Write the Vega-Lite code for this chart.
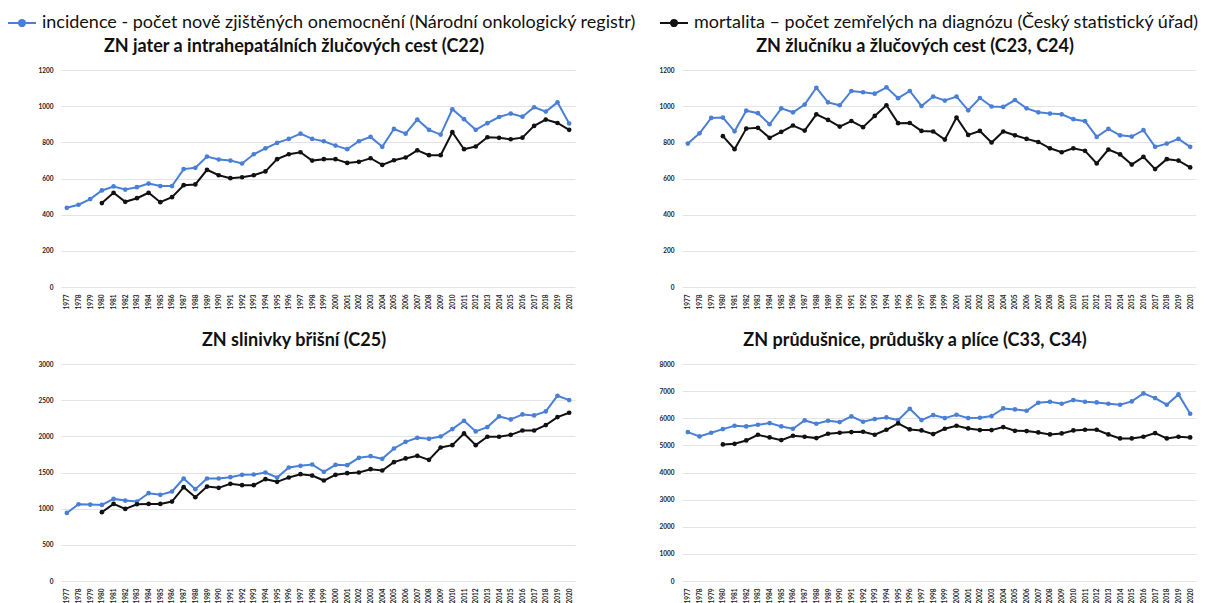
{
  "$schema": "https://vega.github.io/schema/vega-lite/v6.json",
  "background": "white",
  "padding": {"left": 7, "top": 8, "right": 0, "bottom": 0},
  "data": {"values": [
    {"panel":"C22","year":1977,"incidence":438,"mortalita":null},
    {"panel":"C22","year":1978,"incidence":455,"mortalita":null},
    {"panel":"C22","year":1979,"incidence":486,"mortalita":null},
    {"panel":"C22","year":1980,"incidence":534,"mortalita":464},
    {"panel":"C22","year":1981,"incidence":556,"mortalita":521},
    {"panel":"C22","year":1982,"incidence":539,"mortalita":471},
    {"panel":"C22","year":1983,"incidence":552,"mortalita":491},
    {"panel":"C22","year":1984,"incidence":572,"mortalita":521},
    {"panel":"C22","year":1985,"incidence":558,"mortalita":469},
    {"panel":"C22","year":1986,"incidence":558,"mortalita":497},
    {"panel":"C22","year":1987,"incidence":652,"mortalita":563},
    {"panel":"C22","year":1988,"incidence":659,"mortalita":567},
    {"panel":"C22","year":1989,"incidence":721,"mortalita":648},
    {"panel":"C22","year":1990,"incidence":705,"mortalita":618},
    {"panel":"C22","year":1991,"incidence":699,"mortalita":602},
    {"panel":"C22","year":1992,"incidence":683,"mortalita":607},
    {"panel":"C22","year":1993,"incidence":734,"mortalita":618},
    {"panel":"C22","year":1994,"incidence":767,"mortalita":639},
    {"panel":"C22","year":1995,"incidence":797,"mortalita":707},
    {"panel":"C22","year":1996,"incidence":819,"mortalita":734},
    {"panel":"C22","year":1997,"incidence":848,"mortalita":745},
    {"panel":"C22","year":1998,"incidence":819,"mortalita":699},
    {"panel":"C22","year":1999,"incidence":806,"mortalita":707},
    {"panel":"C22","year":2000,"incidence":782,"mortalita":707},
    {"panel":"C22","year":2001,"incidence":762,"mortalita":686},
    {"panel":"C22","year":2002,"incidence":806,"mortalita":692},
    {"panel":"C22","year":2003,"incidence":830,"mortalita":712},
    {"panel":"C22","year":2004,"incidence":775,"mortalita":675},
    {"panel":"C22","year":2005,"incidence":874,"mortalita":701},
    {"panel":"C22","year":2006,"incidence":848,"mortalita":716},
    {"panel":"C22","year":2007,"incidence":926,"mortalita":756},
    {"panel":"C22","year":2008,"incidence":869,"mortalita":729},
    {"panel":"C22","year":2009,"incidence":843,"mortalita":729},
    {"panel":"C22","year":2010,"incidence":983,"mortalita":856},
    {"panel":"C22","year":2011,"incidence":928,"mortalita":762},
    {"panel":"C22","year":2012,"incidence":869,"mortalita":777},
    {"panel":"C22","year":2013,"incidence":906,"mortalita":828},
    {"panel":"C22","year":2014,"incidence":940,"mortalita":825},
    {"panel":"C22","year":2015,"incidence":959,"mortalita":817},
    {"panel":"C22","year":2016,"incidence":942,"mortalita":826},
    {"panel":"C22","year":2017,"incidence":994,"mortalita":891},
    {"panel":"C22","year":2018,"incidence":970,"mortalita":926},
    {"panel":"C22","year":2019,"incidence":1021,"mortalita":907},
    {"panel":"C22","year":2020,"incidence":904,"mortalita":869},
    {"panel":"C23","year":1977,"incidence":793,"mortalita":null},
    {"panel":"C23","year":1978,"incidence":850,"mortalita":null},
    {"panel":"C23","year":1979,"incidence":935,"mortalita":null},
    {"panel":"C23","year":1980,"incidence":937,"mortalita":834},
    {"panel":"C23","year":1981,"incidence":861,"mortalita":762},
    {"panel":"C23","year":1982,"incidence":975,"mortalita":876},
    {"panel":"C23","year":1983,"incidence":961,"mortalita":880},
    {"panel":"C23","year":1984,"incidence":900,"mortalita":825},
    {"panel":"C23","year":1985,"incidence":988,"mortalita":858},
    {"panel":"C23","year":1986,"incidence":966,"mortalita":893},
    {"panel":"C23","year":1987,"incidence":1009,"mortalita":865},
    {"panel":"C23","year":1988,"incidence":1102,"mortalita":955},
    {"panel":"C23","year":1989,"incidence":1021,"mortalita":924},
    {"panel":"C23","year":1990,"incidence":1005,"mortalita":887},
    {"panel":"C23","year":1991,"incidence":1084,"mortalita":918},
    {"panel":"C23","year":1992,"incidence":1077,"mortalita":884},
    {"panel":"C23","year":1993,"incidence":1069,"mortalita":946},
    {"panel":"C23","year":1994,"incidence":1104,"mortalita":1005},
    {"panel":"C23","year":1995,"incidence":1044,"mortalita":906},
    {"panel":"C23","year":1996,"incidence":1084,"mortalita":907},
    {"panel":"C23","year":1997,"incidence":1001,"mortalita":863},
    {"panel":"C23","year":1998,"incidence":1053,"mortalita":860},
    {"panel":"C23","year":1999,"incidence":1031,"mortalita":815},
    {"panel":"C23","year":2000,"incidence":1053,"mortalita":937},
    {"panel":"C23","year":2001,"incidence":977,"mortalita":841},
    {"panel":"C23","year":2002,"incidence":1045,"mortalita":863},
    {"panel":"C23","year":2003,"incidence":998,"mortalita":799},
    {"panel":"C23","year":2004,"incidence":996,"mortalita":860},
    {"panel":"C23","year":2005,"incidence":1034,"mortalita":839},
    {"panel":"C23","year":2006,"incidence":988,"mortalita":819},
    {"panel":"C23","year":2007,"incidence":966,"mortalita":802},
    {"panel":"C23","year":2008,"incidence":959,"mortalita":767},
    {"panel":"C23","year":2009,"incidence":955,"mortalita":745},
    {"panel":"C23","year":2010,"incidence":928,"mortalita":767},
    {"panel":"C23","year":2011,"incidence":917,"mortalita":753},
    {"panel":"C23","year":2012,"incidence":830,"mortalita":683},
    {"panel":"C23","year":2013,"incidence":874,"mortalita":760},
    {"panel":"C23","year":2014,"incidence":839,"mortalita":733},
    {"panel":"C23","year":2015,"incidence":832,"mortalita":677},
    {"panel":"C23","year":2016,"incidence":867,"mortalita":720},
    {"panel":"C23","year":2017,"incidence":775,"mortalita":652},
    {"panel":"C23","year":2018,"incidence":793,"mortalita":707},
    {"panel":"C23","year":2019,"incidence":819,"mortalita":699},
    {"panel":"C23","year":2020,"incidence":775,"mortalita":661},
    {"panel":"C25","year":1977,"incidence":941,"mortalita":null},
    {"panel":"C25","year":1978,"incidence":1061,"mortalita":null},
    {"panel":"C25","year":1979,"incidence":1057,"mortalita":null},
    {"panel":"C25","year":1980,"incidence":1052,"mortalita":951},
    {"panel":"C25","year":1981,"incidence":1135,"mortalita":1066},
    {"panel":"C25","year":1982,"incidence":1112,"mortalita":997},
    {"panel":"C25","year":1983,"incidence":1098,"mortalita":1061},
    {"panel":"C25","year":1984,"incidence":1214,"mortalita":1066},
    {"panel":"C25","year":1985,"incidence":1191,"mortalita":1066},
    {"panel":"C25","year":1986,"incidence":1237,"mortalita":1098},
    {"panel":"C25","year":1987,"incidence":1417,"mortalita":1297},
    {"panel":"C25","year":1988,"incidence":1269,"mortalita":1158},
    {"panel":"C25","year":1989,"incidence":1417,"mortalita":1306},
    {"panel":"C25","year":1990,"incidence":1417,"mortalita":1288},
    {"panel":"C25","year":1991,"incidence":1435,"mortalita":1343},
    {"panel":"C25","year":1992,"incidence":1468,"mortalita":1325},
    {"panel":"C25","year":1993,"incidence":1472,"mortalita":1325},
    {"panel":"C25","year":1994,"incidence":1500,"mortalita":1408},
    {"panel":"C25","year":1995,"incidence":1431,"mortalita":1371},
    {"panel":"C25","year":1996,"incidence":1569,"mortalita":1431},
    {"panel":"C25","year":1997,"incidence":1592,"mortalita":1477},
    {"panel":"C25","year":1998,"incidence":1611,"mortalita":1458},
    {"panel":"C25","year":1999,"incidence":1509,"mortalita":1389},
    {"panel":"C25","year":2000,"incidence":1606,"mortalita":1468},
    {"panel":"C25","year":2001,"incidence":1601,"mortalita":1491},
    {"panel":"C25","year":2002,"incidence":1703,"mortalita":1500},
    {"panel":"C25","year":2003,"incidence":1726,"mortalita":1546},
    {"panel":"C25","year":2004,"incidence":1689,"mortalita":1528},
    {"panel":"C25","year":2005,"incidence":1832,"mortalita":1643},
    {"panel":"C25","year":2006,"incidence":1924,"mortalita":1694},
    {"panel":"C25","year":2007,"incidence":1980,"mortalita":1731},
    {"panel":"C25","year":2008,"incidence":1966,"mortalita":1675},
    {"panel":"C25","year":2009,"incidence":1998,"mortalita":1846},
    {"panel":"C25","year":2010,"incidence":2100,"mortalita":1878},
    {"panel":"C25","year":2011,"incidence":2215,"mortalita":2040},
    {"panel":"C25","year":2012,"incidence":2068,"mortalita":1878},
    {"panel":"C25","year":2013,"incidence":2128,"mortalita":1994},
    {"panel":"C25","year":2014,"incidence":2275,"mortalita":1994},
    {"panel":"C25","year":2015,"incidence":2234,"mortalita":2021},
    {"panel":"C25","year":2016,"incidence":2303,"mortalita":2081},
    {"panel":"C25","year":2017,"incidence":2289,"mortalita":2081},
    {"panel":"C25","year":2018,"incidence":2344,"mortalita":2155},
    {"panel":"C25","year":2019,"incidence":2561,"mortalita":2266},
    {"panel":"C25","year":2020,"incidence":2501,"mortalita":2326},
    {"panel":"C33","year":1977,"incidence":5489,"mortalita":null},
    {"panel":"C33","year":1978,"incidence":5329,"mortalita":null},
    {"panel":"C33","year":1979,"incidence":5465,"mortalita":null},
    {"panel":"C33","year":1980,"incidence":5600,"mortalita":5034},
    {"panel":"C33","year":1981,"incidence":5723,"mortalita":5058},
    {"panel":"C33","year":1982,"incidence":5698,"mortalita":5182},
    {"panel":"C33","year":1983,"incidence":5760,"mortalita":5391},
    {"panel":"C33","year":1984,"incidence":5822,"mortalita":5292},
    {"panel":"C33","year":1985,"incidence":5698,"mortalita":5194},
    {"panel":"C33","year":1986,"incidence":5612,"mortalita":5354},
    {"panel":"C33","year":1987,"incidence":5920,"mortalita":5317},
    {"panel":"C33","year":1988,"incidence":5797,"mortalita":5268},
    {"panel":"C33","year":1989,"incidence":5908,"mortalita":5428},
    {"panel":"C33","year":1990,"incidence":5858,"mortalita":5465},
    {"panel":"C33","year":1991,"incidence":6068,"mortalita":5489},
    {"panel":"C33","year":1992,"incidence":5871,"mortalita":5502},
    {"panel":"C33","year":1993,"incidence":5969,"mortalita":5391},
    {"panel":"C33","year":1994,"incidence":6031,"mortalita":5575},
    {"panel":"C33","year":1995,"incidence":5932,"mortalita":5809},
    {"panel":"C33","year":1996,"incidence":6351,"mortalita":5588},
    {"panel":"C33","year":1997,"incidence":5932,"mortalita":5551},
    {"panel":"C33","year":1998,"incidence":6117,"mortalita":5415},
    {"panel":"C33","year":1999,"incidence":6006,"mortalita":5612},
    {"panel":"C33","year":2000,"incidence":6129,"mortalita":5723},
    {"panel":"C33","year":2001,"incidence":6006,"mortalita":5625},
    {"panel":"C33","year":2002,"incidence":6018,"mortalita":5563},
    {"panel":"C33","year":2003,"incidence":6080,"mortalita":5563},
    {"panel":"C33","year":2004,"incidence":6363,"mortalita":5674},
    {"panel":"C33","year":2005,"incidence":6326,"mortalita":5538},
    {"panel":"C33","year":2006,"incidence":6277,"mortalita":5526},
    {"panel":"C33","year":2007,"incidence":6572,"mortalita":5477},
    {"panel":"C33","year":2008,"incidence":6609,"mortalita":5403},
    {"panel":"C33","year":2009,"incidence":6535,"mortalita":5440},
    {"panel":"C33","year":2010,"incidence":6671,"mortalita":5551},
    {"panel":"C33","year":2011,"incidence":6609,"mortalita":5575},
    {"panel":"C33","year":2012,"incidence":6585,"mortalita":5575},
    {"panel":"C33","year":2013,"incidence":6535,"mortalita":5403},
    {"panel":"C33","year":2014,"incidence":6498,"mortalita":5255},
    {"panel":"C33","year":2015,"incidence":6621,"mortalita":5255},
    {"panel":"C33","year":2016,"incidence":6917,"mortalita":5317},
    {"panel":"C33","year":2017,"incidence":6745,"mortalita":5452},
    {"panel":"C33","year":2018,"incidence":6498,"mortalita":5255},
    {"panel":"C33","year":2019,"incidence":6880,"mortalita":5317},
    {"panel":"C33","year":2020,"incidence":6166,"mortalita":5292}
  ]},
  "spacing": 22,
  "resolve": {"scale": {"x": "independent", "y": "independent", "color": "shared"}, "legend": {"color": "shared"}},
  "vconcat": [
    {
      "spacing": 83,
      "resolve": {"scale": {"x": "independent", "y": "independent", "color": "shared"}, "legend": {"color": "shared"}},
      "hconcat": [
        {
          "title": "ZN jater a intrahepatálních žlučových cest (C22)",
          "width": 514, "height": 217,
          "transform": [{"filter": "datum.panel === 'C22'"}, {"fold": ["incidence", "mortalita"], "as": ["series", "value"]}],
          "mark": {"type": "line", "strokeWidth": 2, "point": {"filled": true, "size": 22}},
          "encoding": {
            "x": {"field": "year", "type": "ordinal", "scale": {"type": "point", "padding": 0.5}},
            "y": {"field": "value", "type": "quantitative", "scale": {"domain": [0, 1200]}, "axis": {"values": [0, 200, 400, 600, 800, 1000, 1200]}},
            "color": {"field": "series", "type": "nominal", "scale": {"domain": ["incidence", "mortalita"], "range": ["#4a7fd6", "#111111"]},
              "legend": {"title": null, "orient": "none", "direction": "horizontal", "legendX": -54, "legendY": -62, "padding": 0,
                "labelExpr": "datum.value === 'incidence' ? 'incidence - počet nově zjištěných onemocnění (Národní onkologický registr)' : 'mortalita – počet zemřelých na diagnózu (Český statistický úřad)'",
                "symbolType": "M-1,0L1,0M0.22,0A0.22,0.22,0,1,1,-0.22,0A0.22,0.22,0,1,1,0.22,0Z",
                "symbolSize": 784, "symbolStrokeWidth": 2, "labelFont": "Lato", "labelFontSize": 18, "labelColor": "#111", "labelOffset": 5, "columnPadding": 20, "labelLimit": 900,
                "encode": {"symbols": {"update": {"fill": {"scale": "color", "field": "value"}, "stroke": {"scale": "color", "field": "value"}, "opacity": {"value": 1}}}}}}
          }
        },
        {
          "title": "ZN žlučníku a žlučových cest (C23, C24)",
          "width": 514, "height": 217,
          "transform": [{"filter": "datum.panel === 'C23'"}, {"fold": ["incidence", "mortalita"], "as": ["series", "value"]}],
          "mark": {"type": "line", "strokeWidth": 2, "point": {"filled": true, "size": 22}},
          "encoding": {
            "x": {"field": "year", "type": "ordinal", "scale": {"type": "point", "padding": 0.5}},
            "y": {"field": "value", "type": "quantitative", "scale": {"domain": [0, 1200]}, "axis": {"values": [0, 200, 400, 600, 800, 1000, 1200]}},
            "color": {"field": "series", "type": "nominal", "scale": {"domain": ["incidence", "mortalita"], "range": ["#4a7fd6", "#111111"]}}
          }
        }
      ]
    },
    {
      "spacing": 83,
      "resolve": {"scale": {"x": "independent", "y": "independent", "color": "shared"}, "legend": {"color": "shared"}},
      "hconcat": [
        {
          "title": "ZN slinivky břišní (C25)",
          "width": 514, "height": 217,
          "transform": [{"filter": "datum.panel === 'C25'"}, {"fold": ["incidence", "mortalita"], "as": ["series", "value"]}],
          "mark": {"type": "line", "strokeWidth": 2, "point": {"filled": true, "size": 22}},
          "encoding": {
            "x": {"field": "year", "type": "ordinal", "scale": {"type": "point", "padding": 0.5}},
            "y": {"field": "value", "type": "quantitative", "scale": {"domain": [0, 3000]}, "axis": {"values": [0, 500, 1000, 1500, 2000, 2500, 3000]}},
            "color": {"field": "series", "type": "nominal", "scale": {"domain": ["incidence", "mortalita"], "range": ["#4a7fd6", "#111111"]}}
          }
        },
        {
          "title": "ZN průdušnice, průdušky a plíce (C33, C34)",
          "width": 514, "height": 217,
          "transform": [{"filter": "datum.panel === 'C33'"}, {"fold": ["incidence", "mortalita"], "as": ["series", "value"]}],
          "mark": {"type": "line", "strokeWidth": 2, "point": {"filled": true, "size": 22}},
          "encoding": {
            "x": {"field": "year", "type": "ordinal", "scale": {"type": "point", "padding": 0.5}},
            "y": {"field": "value", "type": "quantitative", "scale": {"domain": [0, 8000]}, "axis": {"values": [0, 1000, 2000, 3000, 4000, 5000, 6000, 7000, 8000]}},
            "color": {"field": "series", "type": "nominal", "scale": {"domain": ["incidence", "mortalita"], "range": ["#4a7fd6", "#111111"]}}
          }
        }
      ]
    }
  ],
  "config": {
    "font": "Lato",
    "view": {"stroke": null},
    "title": {"font": "Lato", "fontSize": 18, "fontWeight": "bold", "color": "#111", "offset": 11, "dx": -24, "anchor": "middle"},
    "axis": {"labelFont": "Lato", "labelFontSize": 6.5, "labelFontWeight": "bold", "labelColor": "#222", "domain": false, "ticks": false, "title": null, "labelOverlap": false, "format": "d"},
    "axisY": {"gridColor": "#e4e4e4", "gridWidth": 1, "labelPadding": 8},
    "axisX": {"grid": false, "labelAngle": -90, "labelPadding": 7}
  }
}
